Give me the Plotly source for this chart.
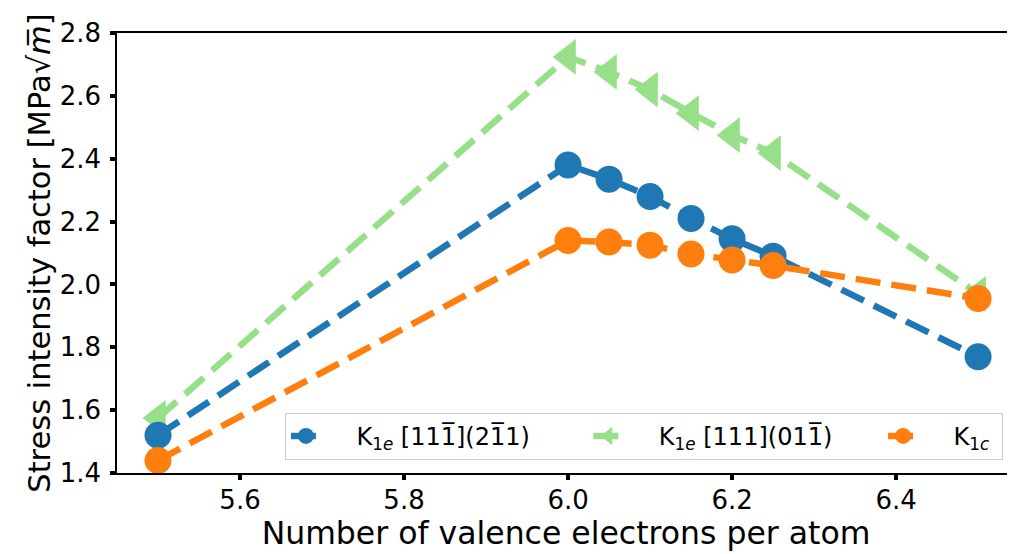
import plotly.graph_objects as go

x_vals = [5.5, 6.0, 6.05, 6.1, 6.15, 6.2, 6.25, 6.5]
k1e_a = [1.52, 2.38, 2.335, 2.28, 2.21, 2.145, 2.09, 1.77]
k1e_b = [1.575, 2.724, 2.676, 2.62, 2.545, 2.475, 2.418, 1.97]
k1c = [1.44, 2.14, 2.135, 2.125, 2.097, 2.078, 2.06, 1.955]

NB = "\u00a0"
names = [
    NB * 4 + "K<sub>1<i>e</i></sub> [11\u0031\u0305](2\u0031\u03051)" + NB * 7,
    NB * 4 + "K<sub>1<i>e</i></sub> [111](01\u0031\u0305)" + NB * 6,
    NB * 4 + "K<sub>1<i>c</i></sub>" + NB,
]
x_ticks = [5.6, 5.8, 6.0, 6.2, 6.4]
y_ticks = [1.4, 1.6, 1.8, 2.0, 2.2, 2.4, 2.6, 2.8]

BLUE = "#1f77b4"
GREEN = "#98df8a"
ORANGE = "#ff7f0e"
DASH = "25px,11px"
LW = 6.5

fig = go.Figure()
fig.add_trace(go.Scatter(
    x=x_vals, y=k1e_b, name=names[1], legendrank=2, mode="lines+markers",
    line=dict(color=GREEN, width=LW, dash=DASH),
    marker=dict(symbol="triangle-left", size=31, color=GREEN),
    cliponaxis=False,
))
fig.add_trace(go.Scatter(
    x=x_vals, y=k1e_a, name=names[0], legendrank=1, mode="lines+markers",
    line=dict(color=BLUE, width=LW, dash=DASH),
    marker=dict(symbol="circle", size=27, color=BLUE),
    cliponaxis=False,
))
fig.add_trace(go.Scatter(
    x=x_vals, y=k1c, name=names[2], legendrank=3, mode="lines+markers",
    line=dict(color=ORANGE, width=LW, dash=DASH),
    marker=dict(symbol="circle", size=27, color=ORANGE),
    cliponaxis=False,
))

font = "DejaVu Sans, Liberation Sans, sans-serif"
# page body has an 8px default margin, so the figure is offset by (8, 8)
fig.update_layout(
    width=1007, height=546,
    margin=dict(l=109, r=0, t=25, b=81),
    paper_bgcolor="white", plot_bgcolor="white",
    font=dict(family=font, color="black", size=24),
    showlegend=True,
    legend=dict(
        orientation="h", x=0.187, y=0.03, xanchor="left", yanchor="bottom",
        bgcolor="rgba(255,255,255,0.8)", bordercolor="#cccccc", borderwidth=1,
        font=dict(size=24, family=font),
        traceorder="normal",
    ),
    xaxis=dict(
        range=[5.45, 6.545], tickvals=x_ticks, ticktext=[f"{v:.1f}" for v in x_ticks],
        ticks="outside", ticklen=5, tickwidth=4, tickcolor="black",
        showline=True, linecolor="black", linewidth=1.5, mirror=True,
        showgrid=False, zeroline=False, automargin=False,
        tickfont=dict(size=26), ticklabelstandoff=-2,
        title=dict(text="Number of valence electrons per atom", font=dict(size=31.5), standoff=5),
    ),
    yaxis=dict(
        range=[1.4, 2.8], tickvals=y_ticks, ticktext=[f"{v:.1f}" for v in y_ticks],
        ticks="outside", ticklen=5, tickwidth=4, tickcolor="black",
        showline=True, linecolor="black", linewidth=1.5, mirror=False,
        showgrid=False, zeroline=False, automargin=False,
        tickfont=dict(size=26), ticklabelstandoff=4,
        title=dict(text="Stress intensity factor [MPa\u221a<i>m\u0305</i>]" + NB,
                   font=dict(size=30.5), standoff=0),
    ),
)

fig.write_html("out.html")
